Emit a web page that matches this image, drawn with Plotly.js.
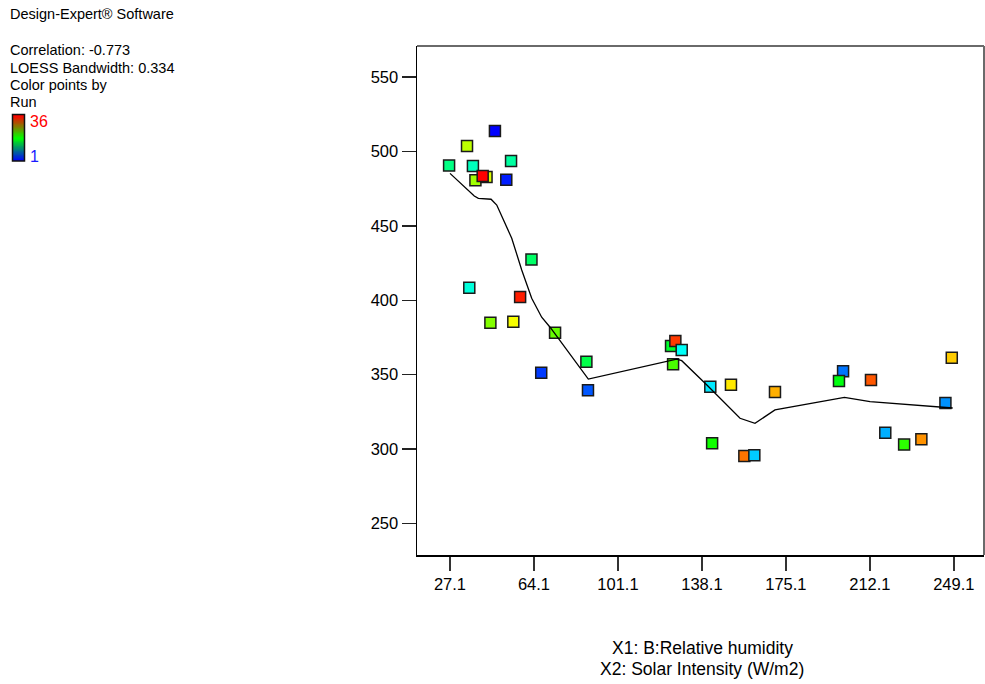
<!DOCTYPE html>
<html>
<head>
<meta charset="utf-8">
<script src="https://cdn.plot.ly/plotly-3.0.1.min.js"></script>
<style>html,body{margin:0;padding:0;background:#fff;}#chart{width:985px;height:684px;}</style>
</head>
<body>
<div id="chart"></div>
<script>
// Observed points (X1 value, response, run number)
const xVals = [46.9, 34.6, 26.7, 37.2, 54.0, 38.3, 43.2, 41.5, 51.9,
  63.0, 35.6, 58.0, 44.9, 55.0, 73.4, 87.2, 67.3, 87.9,
  124.5, 126.4, 129.2, 125.4, 141.8, 150.9, 170.3, 142.6, 156.8, 161.2,
  200.3, 198.5, 212.6, 248.2, 245.4, 218.9, 227.2, 234.8];
const yVals = [513.8, 503.7, 490.6, 490.3, 493.6, 480.6, 482.9, 483.5, 481.0,
  427.4, 408.5, 402.2, 384.9, 385.6, 378.2, 358.7, 351.3, 339.5,
  369.3, 372.6, 366.6, 357.0, 341.9, 343.3, 338.4, 303.9, 295.4, 295.8,
  352.3, 345.8, 346.4, 361.4, 331.0, 311.0, 303.0, 306.6];
const runs = [1, 25, 14, 12, 13, 24, 26, 36, 2,
  15, 11, 35, 23, 27, 22, 16, 3, 4,
  17, 34, 10, 21, 9, 28, 30, 19, 32, 8,
  5, 18, 33, 29, 6, 7, 20, 31];

// LOESS fit curve
const loessX = [27.1, 37.8, 39.6, 45.2, 47.7, 54.3, 58.7, 63.1, 67.5, 71.2, 88.05,
  127.0, 129.2, 140.3, 154.9, 157.1, 161.5, 170.3, 200.9, 212.2, 248.6];
const loessY = [485.3, 470.1, 468.5, 467.9, 464.0, 441.7, 420.4, 401.3, 388.6, 381.9, 347.0,
  360.5, 359.4, 343.1, 320.7, 319.6, 317.3, 326.3, 334.8, 331.9, 327.6];

const xTickVals = [27.1, 64.1, 101.1, 138.1, 175.1, 212.1, 249.1];
const yTickVals = [250, 300, 350, 400, 450, 500, 550];

const legendRuns = [];
for (let i = 1; i <= 36; i++) legendRuns.push([i]);

const FONT = 'Arial, "Liberation Sans", sans-serif';
const W = 985, H = 684;
const px = v => v / W;
const py = v => 1 - v / H;

const rainbow = [[0, '#0000ff'], [0.25, '#00ffff'], [0.5, '#00ff00'], [0.75, '#ffff00'], [1, '#ff0000']];

const traces = [
  {
    type: 'scatter', mode: 'markers', x: xVals, y: yVals,
    xaxis: 'x', yaxis: 'y',
    marker: {
      symbol: 'square', size: 11, color: runs, cmin: 1, cmax: 36,
      colorscale: rainbow, showscale: false,
      line: {color: '#1a1a1a', width: 1.5}
    },
    hoverinfo: 'skip', showlegend: false
  },
  {
    type: 'scatter', mode: 'lines', x: loessX, y: loessY,
    xaxis: 'x', yaxis: 'y',
    line: {color: '#000', width: 1.3},
    hoverinfo: 'skip', showlegend: false
  },
  {
    type: 'heatmap', z: legendRuns, xaxis: 'x2', yaxis: 'y2',
    colorscale: [[0, '#0000ff'], [0.5, '#00ff00'], [1, '#ff0000']],
    zsmooth: 'best', showscale: false, hoverinfo: 'skip'
  }
];

const ann = (text, x, y, size, color, xanchor) => ({
  text: text, xref: 'paper', yref: 'paper', x: px(x), y: py(y),
  xanchor: xanchor || 'left', yanchor: 'middle', showarrow: false,
  font: {family: FONT, size: size, color: color || '#000'}
});

const layout = {
  width: W, height: H,
  margin: {l: 0, r: 0, t: 0, b: 0},
  paper_bgcolor: '#fff', plot_bgcolor: '#fff',
  showlegend: false,
  xaxis: {
    domain: [px(417), px(984)], range: [12.56, 262.4],
    tickvals: xTickVals, ticktext: xTickVals.map(v => v.toFixed(1)),
    ticks: 'outside', ticklen: 14, tickwidth: 1.5, tickcolor: '#333',
    showline: true, linecolor: '#000', linewidth: 1.5,
    showgrid: false, zeroline: false,
    tickfont: {family: FONT, size: 16.5, color: '#000'}
  },
  yaxis: {
    domain: [py(555), py(46)], range: [228.8, 570.9],
    tickvals: yTickVals, ticktext: yTickVals.map(String),
    ticks: 'outside', ticklen: 14, tickwidth: 1.5, tickcolor: '#222',
    showline: true, linecolor: '#000', linewidth: 1.5,
    showgrid: false, zeroline: false,
    tickfont: {family: FONT, size: 16.5, color: '#000'}
  },
  xaxis2: {domain: [px(12.5), px(24.5)], anchor: 'y2', visible: false, fixedrange: true},
  yaxis2: {domain: [py(161), py(114.5)], anchor: 'x2', visible: false, fixedrange: true},
  shapes: [
    {type: 'line', xref: 'x domain', yref: 'y domain', x0: 0, x1: 1, y0: 1, y1: 1,
     line: {color: '#6a6a6a', width: 2}},
    {type: 'line', xref: 'x domain', yref: 'y domain', x0: 1, x1: 1, y0: 0, y1: 1,
     line: {color: '#6a6a6a', width: 2}},
    {type: 'rect', xref: 'paper', yref: 'paper', x0: px(12.5), x1: px(24.5), y0: py(161), y1: py(114.5),
     line: {color: '#111', width: 1.5}}
  ],
  annotations: [
    ann('Design-Expert® Software', 8, 14, 14.5),
    ann('Correlation: -0.773', 8, 50, 14.5),
    ann('LOESS Bandwidth: 0.334', 8, 68, 14.5),
    ann('Color points by', 8, 85, 14.5),
    ann('Run', 8, 102, 14.5),
    ann('36', 28, 121, 16, '#ff0000'),
    ann('1', 28, 156, 16, '#1a1aff'),
    ann('X1: B:Relative humidity', 702, 648, 17.5, '#000', 'center'),
    ann('X2: Solar Intensity (W/m2)', 702, 669, 17.5, '#000', 'center')
  ]
};

Plotly.newPlot('chart', traces, layout, {staticPlot: true, displayModeBar: false});
</script>
</body>
</html>
